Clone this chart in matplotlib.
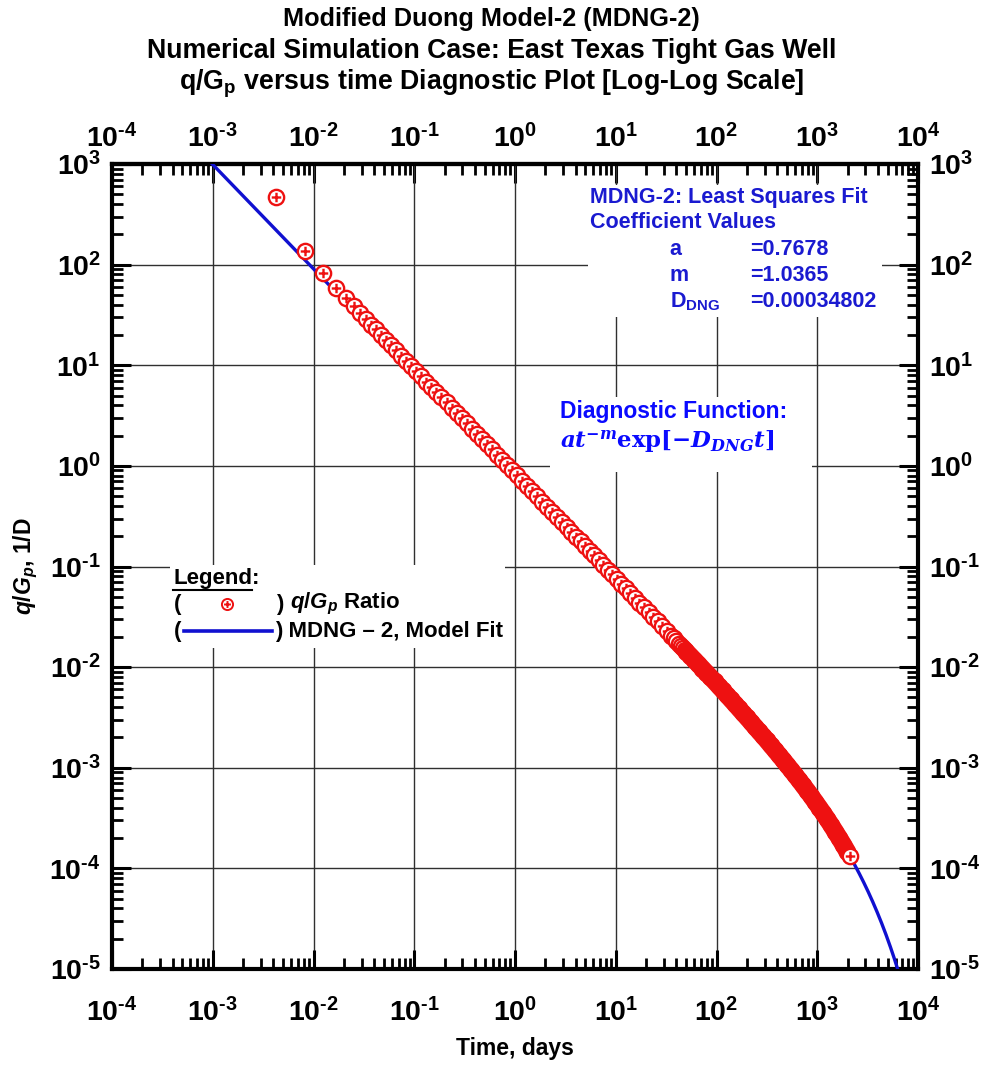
# q/Gp versus time diagnostic plot (MDNG-2) on log-log axes
import numpy as np
import matplotlib as mpl
import matplotlib.pyplot as plt
from matplotlib.path import Path
from matplotlib.lines import Line2D
from matplotlib.patches import Rectangle

plt.rcParams['font.family'] = ['Liberation Sans', 'DejaVu Sans']
plt.rcParams['font.weight'] = 'bold'
plt.rcParams['mathtext.fontset'] = 'custom'
plt.rcParams['mathtext.rm'] = 'Liberation Sans:bold'
plt.rcParams['mathtext.bf'] = 'Liberation Sans:bold'
plt.rcParams['mathtext.it'] = 'Liberation Sans:bold:italic'
plt.rcParams['axes.unicode_minus'] = False

# simulated well data (time in days, q/Gp in 1/D)
time_days = [0.0042, 0.0083, 0.0125, 0.0167, 0.0208, 0.025, 0.0292, 0.0333, 0.0375, 0.0417,
             0.0468, 0.0525, 0.0589, 0.0661, 0.0741, 0.0832, 0.0933, 0.1047, 0.1175, 0.1318,
             0.1479, 0.1660, 0.1862, 0.2089, 0.2344, 0.2630, 0.2951, 0.3311, 0.3715, 0.4169,
             0.4677, 0.5248, 0.5888, 0.6607, 0.7413, 0.8318, 0.9333, 1.047, 1.175, 1.318,
             1.479, 1.660, 1.862, 2.089, 2.344, 2.630, 2.951,
             3.273, 3.631, 4.027, 4.467, 4.955, 5.495, 6.095, 6.761, 7.499, 8.318,
             9.226, 10.23, 11.35, 12.59, 13.96, 15.49, 17.18, 19.05, 21.13, 23.44,
             26.00, 28.84, 31.99, 35.48,
             37.58, 39.81, 42.17, 44.67, 46.77, 48.98,
             50.1, 54.9, 60.3, 66.1, 72.4, 79.4, 87.1, 95.5, 104.7, 114.8,
             125.9, 138.0, 151.4, 166.0, 182.0, 199.5, 218.8, 239.9, 263.0, 288.4,
             316.2, 346.7, 380.2, 416.9, 457.1, 501.2, 549.5, 602.6, 660.7, 724.4,
             794.3, 871.0, 955.0, 1047, 1148, 1259, 1380, 1514, 1660, 1820,
             1995, 2119]
qgp_ratio = [470, 138, 83, 58.5, 46.6, 38.5, 32.8, 28.6, 25.3, 22.7,
             20.13, 17.86, 15.85, 14.07, 12.49, 11.08, 9.83, 8.73, 7.75, 6.88,
             6.10, 5.42, 4.81, 4.27, 3.79, 3.36, 2.98, 2.65, 2.35, 2.085,
             1.850, 1.642, 1.458, 1.294, 1.148, 1.019, 0.904, 0.803, 0.712, 0.632,
             0.561, 0.498, 0.442, 0.392, 0.348, 0.309, 0.274,
             0.246, 0.221, 0.1984, 0.1781, 0.1600, 0.1437, 0.1290, 0.1158, 0.1040, 0.0934,
             0.0839, 0.0753, 0.0676, 0.0607, 0.0545, 0.0489, 0.0439, 0.0394, 0.0354, 0.0318,
             0.0285, 0.0256, 0.0229, 0.0206,
             0.01936, 0.01823, 0.01716, 0.01616, 0.01538, 0.01466,
             0.01430, 0.01298, 0.01178, 0.01069, 0.00969, 0.00879, 0.00797, 0.00722, 0.00653, 0.00590,
             0.00532, 0.00481, 0.00434, 0.00391, 0.00352, 0.00318, 0.00286, 0.00257, 0.00231, 0.00208,
             0.00187, 0.00167, 0.00150, 0.00134, 0.00120, 0.00107, 0.000954, 0.000849, 0.000754, 0.000668,
             0.000591, 0.000522, 0.000459, 0.000403, 0.000353, 0.000308, 0.000267, 0.000231, 0.000199, 0.000171,
             0.0001457, 0.000132]
band_start = 50.0  # after this the circles overlap into a solid band

# MDNG-2 least squares coefficients
a_fit = 0.7678
m_fit = 1.0365
d_dng = 0.00034802

# axis decades
x_exp = np.arange(-4, 5)
y_exp = np.arange(-5, 4)

t = np.array(time_days)
q = np.array(qgp_ratio)
t_fit = np.logspace(-3.05, 4, 800)
q_fit = a_fit * t_fit ** (-m_fit) * np.exp(-d_dng * t_fit)

# circle with a plus inside, one path so each marker covers the one before
arm = 0.62
plus = Path([[-arm, 0], [arm, 0], [0, -arm], [0, arm]],
            [Path.MOVETO, Path.LINETO, Path.MOVETO, Path.LINETO])
circ_plus = Path.make_compound_path(Path.unit_circle(), plus)

red = '#ee1111'
blue_line = '#1010d0'
blue_txt = '#1a1ad0'
ms, mew = 11, 1.7


def pow10_label(val, pos):
    # hyphen instead of the long math minus, as on the original chart
    e = int(round(np.log10(val)))
    return r'$10^{%s}$' % (str(e).replace('-', '\u2010'))


def minor_ticks(exps):
    return (10.0 ** exps[:-1, None] * np.arange(2, 10)[None, :]).ravel()


def style_axis(axis, exps):
    axis.set_major_locator(mpl.ticker.FixedLocator(10.0 ** exps))
    axis.set_major_formatter(mpl.ticker.FuncFormatter(pow10_label))
    axis.set_minor_locator(mpl.ticker.FixedLocator(minor_ticks(exps)))
    axis.set_minor_formatter(mpl.ticker.NullFormatter())


fig = plt.figure(figsize=(9.81, 10.67), dpi=100)
ax = fig.add_axes([0.1142, 0.0918, 0.8216, 0.7545])
ax.set_xscale('log')
ax.set_yscale('log')
ax.set_xlim(10.0 ** x_exp[0], 10.0 ** x_exp[-1])
ax.set_ylim(10.0 ** y_exp[0], 10.0 ** y_exp[-1])
style_axis(ax.xaxis, x_exp)
style_axis(ax.yaxis, y_exp)

ax.grid(True, which='major', color='#303030', lw=1.0)
ax.set_axisbelow(True)
ax.tick_params(which='both', direction='in', top=False, right=True,
               labelright=True, labelsize=20.5)
ax.tick_params(which='major', length=14, width=2.2)
ax.tick_params(which='minor', length=8, width=2.0)
ax.tick_params(axis='x', pad=21)
ax.tick_params(axis='y', pad=8)
for s in ax.spines.values():
    s.set_linewidth(3)

# top axis gets its own ticks so its labels can sit closer to the frame
top = ax.secondary_xaxis('top')
style_axis(top.xaxis, x_exp)
top.tick_params(which='both', direction='in', labelsize=20.5)
top.tick_params(which='major', length=14, width=2.2, pad=8)
top.tick_params(which='minor', length=8, width=2.0)
top.spines['top'].set_linewidth(3)

ax.set_xlabel('Time, days', fontsize=16.5, fontweight='bold', labelpad=7)
ax.set_ylabel(r'$\mathit{q/G_p}$, 1/D', fontsize=16.5, fontweight='bold', labelpad=7)

# model fit line and data
ax.plot(t_fit, q_fit, color=blue_line, lw=2.4, zorder=3)
sparse = t < band_start
ax.plot(t[sparse], q[sparse], ls='none', marker=circ_plus, ms=ms, mfc='white',
        mec=red, mew=mew, zorder=4)
# late-time points are so close together that the circles merge into one band
ax.plot(t[~sparse][:-1], q[~sparse][:-1], color=red, lw=ms + mew, solid_capstyle='round',
        marker='o', ms=ms, mfc=red, mec=red, mew=mew, zorder=4)
ax.plot(t[-1:], q[-1:], ls='none', marker=circ_plus, ms=ms, mfc='white',
        mec=red, mew=mew, zorder=5)

# white backgrounds behind the text blocks
for x0, y0, w, h in [(0.5906, 0.810, 0.365, 0.164),
                     (0.5434, 0.617, 0.325, 0.094),
                     (0.0720, 0.399, 0.415, 0.103)]:
    ax.add_patch(Rectangle((x0, y0), w, h, transform=ax.transAxes,
                           facecolor='white', edgecolor='none', zorder=1))

# coefficient block
kw = dict(transform=ax.transAxes, fontsize=15.5, fontweight='bold', color=blue_txt,
          va='center', ha='left', zorder=6)
ax.text(0.593, 0.959, 'MDNG-2: Least Squares Fit', **kw)
ax.text(0.593, 0.927, 'Coefficient Values', **kw)
coef_names = ['a', 'm', r'D$_{\mathrm{DNG}}$']
coef_vals = ['=0.7678', '=1.0365', '=0.00034802']
for i, (nm, val) in enumerate(zip(coef_names, coef_vals)):
    yy = 0.894 - i * 0.0323
    ax.text(0.692, yy, nm, **kw)
    ax.text(0.7916, yy, val, **kw)

# diagnostic function
ax.text(0.5558, 0.692, 'Diagnostic Function:', transform=ax.transAxes, fontsize=16.5,
        fontweight='bold', color='#0a0aff', va='center', ha='left', zorder=6)
ax.text(0.5558, 0.655,
        r'$\mathbfit{at}^{\mathbfit{-m}}\mathbf{exp}[\mathbfit{-D}_{\mathbfit{DNG}}\mathbfit{t}]$',
        transform=ax.transAxes, fontsize=16.5, color='#0a0aff', va='center', ha='left',
        math_fontfamily='dejavuserif', zorder=6)

# hand-made legend
lk = dict(transform=ax.transAxes, fontsize=16, fontweight='bold', color='black',
          va='center', ha='left', zorder=6)
ax.text(0.0757, 0.4857, 'Legend:', **lk)
ax.add_line(Line2D([0.0757, 0.1740], [0.4705, 0.4705], transform=ax.transAxes,
                   color='black', lw=1.5, zorder=6))
ax.text(0.0769, 0.4534, '(', **lk)
ax.add_line(Line2D([0.1427], [0.4534], transform=ax.transAxes, ls='none', marker=circ_plus,
                   ms=8, mfc='white', mec=red, mew=1.4, zorder=6))
ax.text(0.2035, 0.4534, ')', **lk)
ax.text(0.2208, 0.4534, r'$\mathit{q/G_p}$ Ratio', **lk)
ax.text(0.0769, 0.4199, '(', **lk)
ax.add_line(Line2D([0.0893, 0.1985], [0.4199, 0.4199], transform=ax.transAxes,
                   color=blue_line, lw=2.6, zorder=6))
ax.text(0.2020, 0.4199, ') MDNG \u2013 2, Model Fit', **lk)

# title
fig.text(0.501, 0.9756, 'Modified Duong Model-2 (MDNG-2)', ha='center', va='baseline',
         fontsize=18.2, fontweight='bold')
fig.text(0.501, 0.9456, 'Numerical Simulation Case: East Texas Tight Gas Well', ha='center',
         va='baseline', fontsize=19.3, fontweight='bold')
fig.text(0.501, 0.9157, r'q/G$_{\mathrm{p}}$ versus time Diagnostic Plot [Log-Log Scale]',
         ha='center', va='baseline', fontsize=19.3, fontweight='bold')

fig.savefig('out.png', dpi=100)
